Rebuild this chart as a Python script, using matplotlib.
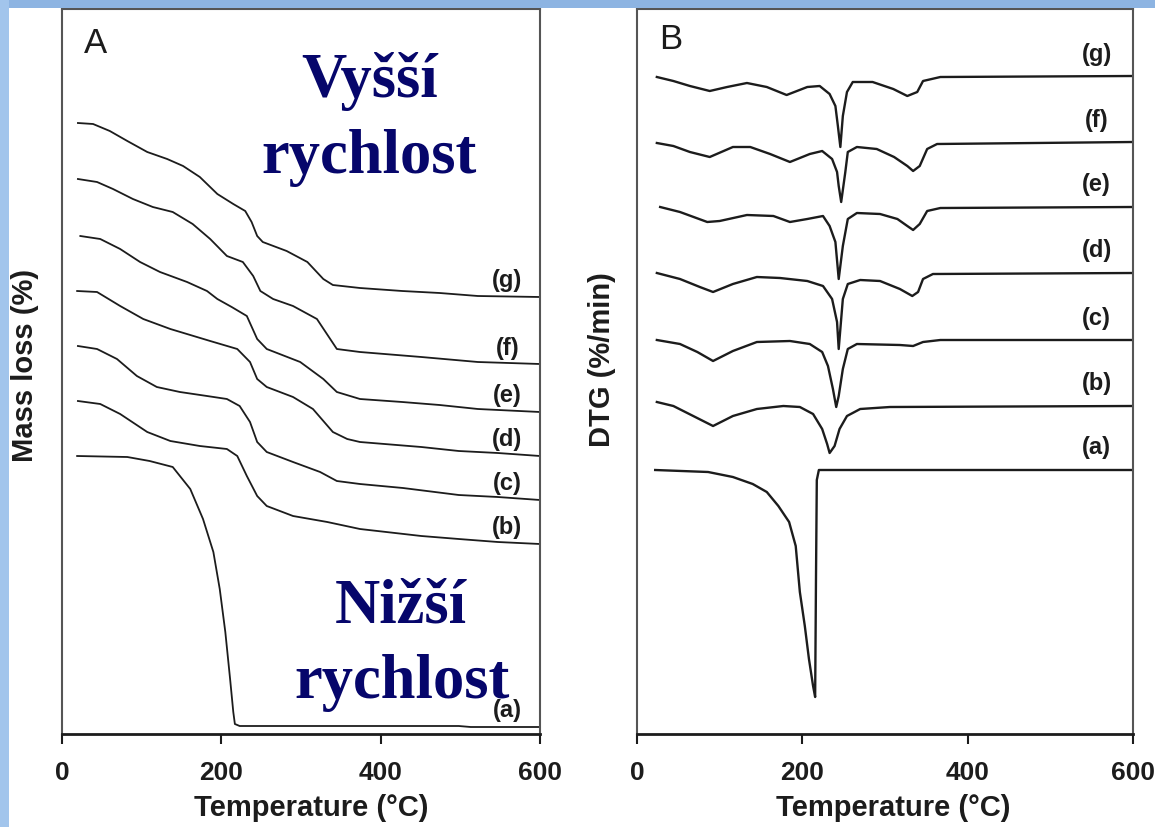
import matplotlib.pyplot as plt
from matplotlib.patches import Rectangle

plt.rcParams['font.family'] = ['Liberation Sans', 'DejaVu Sans']

# series names, slowest (a) to fastest (g) heating rate
series = ['(a)', '(b)', '(c)', '(d)', '(e)', '(f)', '(g)']

# --- A: TG curves (stacked, offset units) ---
tg_t_a = [19, 82, 110, 139, 161, 177, 190, 198, 205, 211, 215, 217, 223, 354, 498, 513, 600]
tg_m_a = [278, 277, 273, 267, 245, 215, 182, 145, 102, 55, 22, 10, 8, 8, 8, 7, 7]

tg_t_b = [20, 48, 73, 107, 136, 173, 207, 220, 232, 245, 257, 290, 333, 374, 451, 498, 547, 600]
tg_m_b = [333, 330, 320, 302, 293, 288, 285, 278, 258, 238, 228, 218, 212, 205, 198, 195, 192, 190]

tg_t_c = [20, 44, 69, 94, 119, 148, 182, 207, 223, 236, 245, 257, 290, 324, 345, 374, 428, 498, 547, 600]
tg_m_c = [388, 385, 375, 358, 347, 342, 338, 335, 328, 312, 292, 282, 272, 262, 253, 250, 246, 239, 237, 234]

tg_t_d = [19, 44, 73, 102, 136, 186, 220, 236, 245, 257, 290, 315, 340, 358, 374, 451, 498, 547, 600]
tg_m_d = [443, 442, 428, 415, 405, 393, 385, 372, 355, 347, 337, 325, 302, 295, 292, 287, 283, 281, 278]

tg_t_e = [23, 48, 73, 98, 123, 157, 182, 195, 213, 232, 245, 257, 299, 328, 345, 374, 427, 474, 522, 600]
tg_m_e = [498, 495, 485, 472, 462, 452, 443, 435, 427, 418, 395, 385, 372, 355, 342, 335, 332, 329, 325, 322]

tg_t_f = [20, 44, 64, 89, 114, 139, 164, 186, 207, 227, 240, 249, 265, 290, 320, 345, 374, 451, 522, 600]
tg_m_f = [555, 552, 545, 535, 527, 522, 510, 495, 478, 472, 458, 443, 435, 428, 415, 385, 382, 377, 372, 370]

tg_t_g = [20, 39, 60, 82, 107, 132, 152, 173, 195, 215, 230, 238, 245, 252, 282, 308, 328, 340, 374,
          427, 474, 522, 600]
tg_m_g = [611, 610, 603, 593, 582, 575, 568, 557, 540, 530, 523, 512, 498, 492, 483, 472, 455, 449, 446,
          443, 441, 438, 437]

# --- B: DTG curves, baseline level + depth of each peak ---
dtg_base = [264, 328, 394, 461, 527, 592, 658]

dtg_t_a = [22, 86, 116, 140, 157, 171, 184, 192, 197, 203, 208, 213, 215.5, 216.5, 217.5, 220, 600]
dtg_d_a = [0, 2, 7, 14, 22, 36, 52, 76, 122, 156, 189, 216, 227, 110, 10, 0, 0]

dtg_t_b = [24, 44, 68, 92, 116, 145, 177, 197, 213, 224, 230, 233, 239, 245, 254, 270, 306, 600]
dtg_d_b = [-4, 0, 10, 20, 10, 3, 0, 1, 8, 23, 38, 47, 40, 23, 10, 3, 1, 0]

dtg_t_c = [24, 52, 73, 92, 116, 145, 185, 209, 224, 231, 237, 241, 244, 249, 255, 266, 318, 334, 346, 367, 600]
dtg_d_c = [0, 4, 12, 21, 11, 2, 1, 4, 12, 26, 49, 67, 56, 29, 9, 4, 5, 6, 2, 0, 0]

dtg_t_d = [24, 52, 76, 92, 116, 145, 173, 206, 225, 236, 242, 244, 249, 255, 270, 294, 318, 333, 340, 346, 358, 600]
dtg_d_d = [0, 6, 14, 19, 11, 4, 5, 8, 13, 26, 49, 76, 26, 11, 7, 8, 16, 23, 19, 6, 1, 0]

dtg_t_e = [28, 52, 85, 100, 133, 165, 185, 206, 225, 233, 240, 244, 249, 255, 266, 294, 315, 327, 334, 342,
           351, 367, 600]
dtg_d_e = [0, 5, 15, 14, 8, 9, 15, 12, 9, 19, 35, 72, 39, 12, 6, 7, 12, 19, 23, 17, 4, 1, 0]

dtg_t_f = [24, 44, 64, 88, 116, 137, 161, 185, 209, 224, 236, 242, 244, 247, 252, 255, 266, 290, 311, 327,
           334, 342, 351, 363, 600]
dtg_d_f = [1, 4, 10, 15, 5, 5, 12, 20, 12, 9, 17, 30, 44, 60, 30, 10, 5, 7, 15, 24, 29, 24, 7, 2, 0]

dtg_t_g = [24, 44, 64, 88, 109, 133, 157, 181, 206, 221, 233, 240, 243, 246, 249, 254, 261, 285, 310, 327,
           339, 346, 367, 600]
dtg_d_g = [1, 5, 10, 15, 11, 7, 11, 19, 11, 10, 18, 30, 50, 71, 40, 16, 6, 6, 13, 20, 16, 5, 1, 0]

xticks = [0, 200, 400, 600]

tg_t = [tg_t_a, tg_t_b, tg_t_c, tg_t_d, tg_t_e, tg_t_f, tg_t_g]
tg_m = [tg_m_a, tg_m_b, tg_m_c, tg_m_d, tg_m_e, tg_m_f, tg_m_g]
dtg_t = [dtg_t_a, dtg_t_b, dtg_t_c, dtg_t_d, dtg_t_e, dtg_t_f, dtg_t_g]
dtg_d = [dtg_d_a, dtg_d_b, dtg_d_c, dtg_d_d, dtg_d_e, dtg_d_f, dtg_d_g]

W, H = 1155, 828
fig = plt.figure(figsize=(W / 100, H / 100), dpi=100)
fig.patch.set_facecolor('white')
# slide frame
fig.patches.append(Rectangle((0, 1 - 9 / H), 1, 9 / H, transform=fig.transFigure,
                             facecolor='#8db4e2', edgecolor='none', zorder=0))
fig.patches.append(Rectangle((0, 0), 9 / W, 1, transform=fig.transFigure,
                             facecolor='#a2c5ec', edgecolor='none', zorder=0))

axA = fig.add_axes([62 / W, 1 - 735 / H, 478 / W, 725 / H])
axB = fig.add_axes([637 / W, 1 - 735 / H, 496 / W, 725 / H])

ink = '#1c1c1c'
for ax in (axA, axB):
    ax.set_xlim(0, 600)
    ax.set_ylim(0, 725)
    ax.set_xticks(xticks)
    ax.tick_params(axis='x', direction='out', length=7, width=1.5, labelsize=19,
                   pad=12, colors=ink)
    ax.tick_params(axis='y', left=False, labelleft=False)
    for lbl in ax.get_xticklabels():
        lbl.set_fontweight('bold')
    for side in ('left', 'right', 'top'):
        ax.spines[side].set_color('#555555')
        ax.spines[side].set_linewidth(1.5)
    ax.spines['bottom'].set_color(ink)
    ax.spines['bottom'].set_linewidth(2.0)

# panel A: mass loss
for name, t, m in zip(series, tg_t, tg_m):
    axA.plot(t, m, color=ink, lw=1.3, solid_joinstyle='round')
    axA.text(559, m[-1] + 17, name, ha='center', va='center', fontsize=17,
             fontweight='bold', color=ink, zorder=3)

# panel B: DTG
for name, base, t, d in zip(series, dtg_base, dtg_t, dtg_d):
    axB.plot(t, [base - v for v in d], color=ink, lw=1.7, solid_joinstyle='round')
    axB.text(556, base + 23, name, ha='center', va='center', fontsize=17,
             fontweight='bold', color=ink)

axA.text(0.046, 0.941, 'A', transform=axA.transAxes, fontsize=25, color=ink)
axB.text(0.044, 0.946, 'B', transform=axB.transAxes, fontsize=25, color=ink)

navy = '#06066b'
serif = ['Liberation Serif', 'DejaVu Serif']
big = dict(transform=axA.transAxes, ha='center', va='baseline', fontsize=45,
           fontweight='bold', family=serif, color=navy, zorder=5)
axA.text(0.644, 0.880, 'Vyšší', **big)
axA.text(0.642, 0.775, 'rychlost', **big)
axA.text(0.709, 0.1545, 'Nižší', **big)
axA.text(0.711, 0.051, 'rychlost', **big)

# axis titles
fig.text(311 / W, 1 - 808 / H, 'Temperature (°C)', ha='center', va='center',
         fontsize=21, fontweight='bold', color=ink)
fig.text(893 / W, 1 - 808 / H, 'Temperature (°C)', ha='center', va='center',
         fontsize=21, fontweight='bold', color=ink)
fig.text(25 / W, 1 - 365 / H, 'Mass loss (%)', rotation=90, ha='center', va='center',
         fontsize=21, fontweight='bold', color=ink)
fig.text(602 / W, 1 - 360 / H, 'DTG (%/min)', rotation=90, ha='center', va='center',
         fontsize=21, fontweight='bold', color=ink)

fig.savefig('out.png', dpi=100)
